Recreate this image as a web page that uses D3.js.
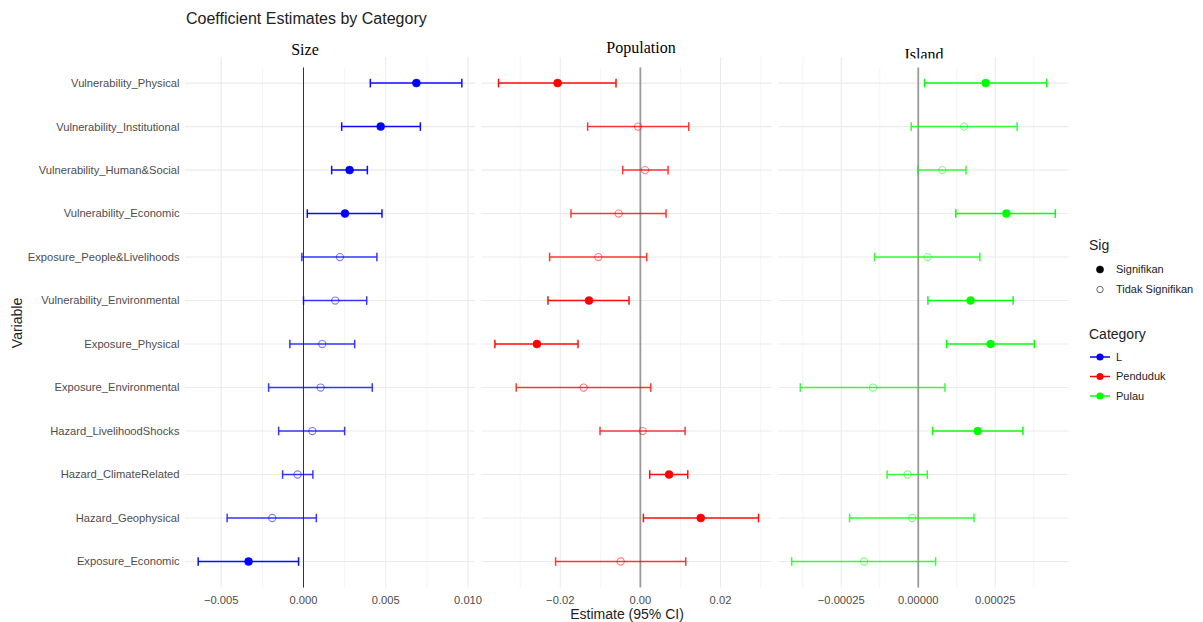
<!DOCTYPE html>
<html><head><meta charset="utf-8">
<script src="https://cdn.jsdelivr.net/npm/d3@7"></script>
<style>body{margin:0;background:#fff}svg{display:block}</style>
</head><body><svg id="c" width="1203" height="622"></svg>
<script>
const variables = ["Vulnerability_Physical","Vulnerability_Institutional","Vulnerability_Human&Social","Vulnerability_Economic","Exposure_People&Livelihoods","Vulnerability_Environmental","Exposure_Physical","Exposure_Environmental","Hazard_LivelihoodShocks","Hazard_ClimateRelated","Hazard_Geophysical","Exposure_Economic"];

const sizeEstimate = [0.00686,0.00469,0.00280,0.00252,0.00221,0.00193,0.00114,0.00104,0.00054,-0.00036,-0.00190,-0.00334];
const sizeLower    = [0.00406,0.00232,0.00171,0.00023,-0.00010,0.00000,-0.00083,-0.00212,-0.00151,-0.00127,-0.00464,-0.00640];
const sizeUpper    = [0.00962,0.00710,0.00388,0.00477,0.00446,0.00384,0.00311,0.00418,0.00250,0.00057,0.00078,-0.00030];
const sizeSig      = [1,1,1,1,0,0,0,0,0,0,0,1];

const popEstimate = [-0.02067,-0.00058,0.00117,-0.00542,-0.01050,-0.01283,-0.02583,-0.01417,0.00058,0.00717,0.01508,-0.00492];
const popLower    = [-0.03542,-0.01317,-0.00442,-0.01733,-0.02267,-0.02308,-0.03633,-0.03100,-0.01008,0.00233,0.00075,-0.02117];
const popUpper    = [-0.00608,0.01208,0.00692,0.00642,0.00158,-0.00283,-0.01558,0.00258,0.01117,0.01183,0.02950,0.01133];
const popSig      = [1,0,0,0,0,1,1,0,0,1,1,0];

const islandEstimate = [0.000219,0.000149,0.0000782,0.000286,0.0000303,0.000170,0.000235,-0.000147,0.000193,-0.0000349,-0.0000196,-0.000176];
const islandLower    = [0.0000205,-0.0000228,-0.0000013,0.000122,-0.000142,0.0000313,0.0000922,-0.000383,0.0000466,-0.000101,-0.000223,-0.000411];
const islandUpper    = [0.000417,0.000321,0.000155,0.000445,0.000200,0.000308,0.000377,0.0000867,0.000340,0.0000293,0.000181,0.0000564];
const islandSig      = [1,0,0,1,0,1,1,0,1,0,0,0];

const sizeTicks = [-0.005,0,0.005,0.010];
const popTicks = [-0.02,0,0.02];
const islandTicks = [-0.00025,0,0.00025];

const panelTitles = ["Size","Population","Island"];
const categoryNames = ["L","Penduduk","Pulau"];
const categoryColors = ["#0000FF","#FF0000","#00FF00"];
const sigNames = ["Signifikan","Tidak Signifikan"];

const panels = [
  {title:panelTitles[0], est:sizeEstimate, lo:sizeLower, hi:sizeUpper, sig:sizeSig, ticks:sizeTicks, fmt:d3.format(".3f"), color:categoryColors[0], x0:185, x1:475, zeroColor:"#333", zeroW:1, box:[230,380], titleY:55},
  {title:panelTitles[1], est:popEstimate, lo:popLower, hi:popUpper, sig:popSig, ticks:popTicks, fmt:d3.format(".2f"), color:categoryColors[1], x0:481.7, x1:771.7, zeroColor:"#9a9a9a", zeroW:1.8, box:[572,710], titleY:53},
  {title:panelTitles[2], est:islandEstimate, lo:islandLower, hi:islandUpper, sig:islandSig, ticks:islandTicks, fmt:d3.format(".5f"), color:categoryColors[2], x0:778.5, x1:1068.5, zeroColor:"#9a9a9a", zeroW:1.8, box:[858,990], titleY:60, clip:58.5}
];

const svg = d3.select("#c");
const panelTop = 57, panelBottom = 587.6;
const y = d3.scalePoint().domain(variables).range([panelTop, panelBottom]).padding(0.6);
const sans = "'Liberation Sans', Arial, sans-serif";
const serif = "'Liberation Serif', 'Times New Roman', serif";

svg.append("text").attr("x",186).attr("y",24).attr("font-family",sans).attr("font-size",16).attr("fill","#222").text("Coefficient Estimates by Category");

svg.append("g").selectAll("text").data(variables).join("text")
  .attr("x",179.5).attr("y",d=>y(d)).attr("dy","0.35em").attr("text-anchor","end")
  .attr("font-family",sans).attr("font-size",11.2).attr("fill","#4D4D4D").text(d=>d);

const defs = svg.append("defs");

panels.forEach((p,pi)=>{
  const ext = d3.extent(p.lo.concat(p.hi));
  const pad = (ext[1]-ext[0])*0.05;
  const x = d3.scaleLinear().domain([ext[0]-pad, ext[1]+pad]).range([p.x0, p.x1]);
  const g = svg.append("g");
  const step = p.ticks[1]-p.ticks[0];
  const minors = [];
  for (let t = p.ticks[0]-step/2; t <= x.domain()[1]; t += step) if (t >= x.domain()[0]) minors.push(t);
  g.selectAll(".mn").data(minors).join("line")
    .attr("x1",d=>x(d)).attr("x2",d=>x(d)).attr("y1",panelTop).attr("y2",panelBottom)
    .attr("stroke","#F1F1F1").attr("stroke-width",0.8);
  g.selectAll(".mj").data(p.ticks).join("line")
    .attr("x1",d=>x(d)).attr("x2",d=>x(d)).attr("y1",panelTop).attr("y2",panelBottom)
    .attr("stroke","#EBEBEB").attr("stroke-width",1.1);
  g.selectAll(".hy").data(variables).join("line")
    .attr("x1",p.x0).attr("x2",p.x1).attr("y1",d=>y(d)).attr("y2",d=>y(d))
    .attr("stroke","#EBEBEB").attr("stroke-width",1.1);
  g.append("line").attr("x1",x(0)).attr("x2",x(0)).attr("y1",panelTop).attr("y2",panelBottom)
    .attr("stroke",p.zeroColor).attr("stroke-width",p.zeroW);
  const rows = variables.map((v,i)=>({v, est:p.est[i], lo:p.lo[i], hi:p.hi[i], sig:p.sig[i]}));
  const eb = g.selectAll(".eb").data(rows).join("g").attr("opacity",d=>d.sig?0.95:0.78);
  eb.append("line").attr("x1",d=>x(d.lo)).attr("x2",d=>x(d.hi)).attr("y1",d=>y(d.v)).attr("y2",d=>y(d.v))
    .attr("stroke",p.color).attr("stroke-width",1.5);
  eb.append("line").attr("x1",d=>x(d.lo)).attr("x2",d=>x(d.lo)).attr("y1",d=>y(d.v)-4.3).attr("y2",d=>y(d.v)+4.3)
    .attr("stroke",p.color).attr("stroke-width",1.5);
  eb.append("line").attr("x1",d=>x(d.hi)).attr("x2",d=>x(d.hi)).attr("y1",d=>y(d.v)-4.3).attr("y2",d=>y(d.v)+4.3)
    .attr("stroke",p.color).attr("stroke-width",1.5);
  g.selectAll(".pt").data(rows).join("circle")
    .attr("cx",d=>x(d.est)).attr("cy",d=>y(d.v)).attr("r",d=>d.sig?4:3.6)
    .attr("fill",d=>d.sig?p.color:"none").attr("stroke",p.color)
    .attr("stroke-width",d=>d.sig?0.5:1.1).attr("stroke-opacity",d=>d.sig?1:0.5);
  g.selectAll(".tl").data(p.ticks).join("text")
    .attr("x",d=>x(d)).attr("y",604).attr("text-anchor","middle")
    .attr("font-family",sans).attr("font-size",11.2).attr("fill","#4D4D4D").text(d=>p.fmt(d));
  g.append("rect").attr("x",p.box[0]).attr("y",36).attr("width",p.box[1]-p.box[0]).attr("height",31.5).attr("fill","#fff");
  const cx = (p.box[0]+p.box[1])/2;
  const t = g.append("text").attr("x",cx).attr("y",p.titleY).attr("text-anchor","middle")
    .attr("font-family",serif).attr("font-size",16).attr("fill","#000").text(p.title);
  if (p.clip) {
    defs.append("clipPath").attr("id","clip"+pi).append("rect").attr("x",0).attr("y",0).attr("width",1203).attr("height",p.clip);
    t.attr("clip-path","url(#clip"+pi+")");
  }
});

svg.append("text").attr("x",627).attr("y",619).attr("text-anchor","middle")
  .attr("font-family",sans).attr("font-size",14).attr("fill","#222").text("Estimate (95% CI)");
svg.append("text").attr("transform","translate(22,323) rotate(-90)").attr("text-anchor","middle")
  .attr("font-family",sans).attr("font-size",14).attr("fill","#222").text("Variable");

const lg = svg.append("g");
lg.append("text").attr("x",1089).attr("y",250).attr("font-family",sans).attr("font-size",14).attr("fill","#222").text("Sig");
const sigY = [269.5, 289.5];
sigNames.forEach((s,i)=>{
  lg.append("circle").attr("cx",1100).attr("cy",sigY[i]).attr("r",i===0?3.6:3.2)
    .attr("fill",i===0?"#000":"none").attr("stroke",i===0?"#000":"#555").attr("stroke-width",i===0?0.5:0.9);
  lg.append("text").attr("x",1116).attr("y",sigY[i]).attr("dy","0.35em").attr("font-family",sans).attr("font-size",11).attr("fill","#222").text(s);
});
lg.append("text").attr("x",1089).attr("y",339).attr("font-family",sans).attr("font-size",14).attr("fill","#222").text("Category");
const catY = [357, 376.5, 396];
categoryNames.forEach((c,i)=>{
  lg.append("line").attr("x1",1090).attr("x2",1110).attr("y1",catY[i]).attr("y2",catY[i]).attr("stroke",categoryColors[i]).attr("stroke-width",1.5);
  lg.append("circle").attr("cx",1100).attr("cy",catY[i]).attr("r",3.6).attr("fill",categoryColors[i]);
  lg.append("text").attr("x",1116).attr("y",catY[i]).attr("dy","0.35em").attr("font-family",sans).attr("font-size",11).attr("fill","#222").text(c);
});
</script></body></html>
